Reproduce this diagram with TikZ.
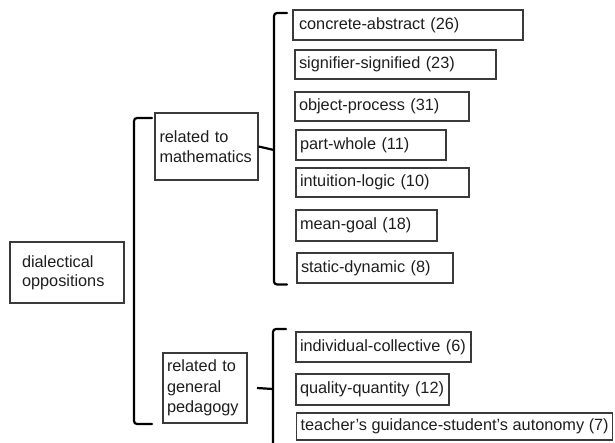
\documentclass[tikz,border=0pt]{standalone}
\usepackage{fontspec}
\setmainfont{Liberation Sans}
\definecolor{boxline}{HTML}{3A3A3A}
\definecolor{txt}{HTML}{1E1E1E}
\tikzset{
  bx/.style={draw=boxline, line width=1.3pt, inner xsep=4pt, inner ysep=0pt,
    align=left, text=txt, font=\fontsize{16.3}{20.3}\selectfont},
  brace/.style={draw=black, line width=2.2pt, rounded corners=3pt, line cap=round}
}
\begin{document}
\begin{tikzpicture}[x=1pt,y=-1pt]
\useasboundingbox (0,0) rectangle (615,442);
% left column
\node[bx, inner xsep=12pt, text width=90pt, minimum height=61pt] (dial) at (67,272.5) {dialectical\\[-1pt]oppositions\\[4pt]};
\node[bx, inner xsep=4.5pt, text width=94pt, minimum height=67pt] (math) at (206.5,146.5) {related to\\mathematics};
\node[bx, text width=76pt, minimum height=70pt] (ped) at (205,388) {related to\\general\\pedagogy};
% math items
\node[bx, inner xsep=6pt, text width=218pt, minimum height=30pt] (ca) at (408,25) {concrete-abstract (26)};
\node[bx, text width=193pt, minimum height=29pt] (ss) at (395.5,64.5) {signifier-signified (23)};
\node[bx, text width=166pt, minimum height=29pt] (op) at (382,106.5) {object-process (31)};
\node[bx, text width=142pt, minimum height=30pt] (pw) at (371,145) {part-whole (11)};
\node[bx, text width=165pt, minimum height=29pt] (il) at (382.5,182.5) {intuition-logic (10)};
\node[bx, text width=133pt, minimum height=31pt] (mg) at (366.5,225.5) {mean-goal (18)};
\node[bx, text width=148pt, minimum height=30pt] (sd) at (375,268) {static-dynamic (8)};
% pedagogy items
\node[bx, text width=167pt, minimum height=30pt] (ic) at (383.5,347) {individual-collective (6)};
\node[bx, text width=145pt, minimum height=31pt] (qq) at (372.5,389.5) {quality-quantity (12)};
\node[bx, anchor=west, minimum height=27pt] (tg) at (296,426.5) {teacher's guidance-student's autonomy (7)};
% brace coordinates
\coordinate (bigT) at (152,118);
\coordinate (bigB) at (152,424);
\coordinate (mT) at (287,13);
\coordinate (mB) at (287,284.5);
\coordinate (mM) at (274,150);
\coordinate (pT) at (286,329);
\coordinate (pB) at (286,470);
\coordinate (pM) at (273,389);
% big bracket
\draw[brace] (bigT) -- (134,118) -- (134,424) -- (bigB);
% math brace
\draw[brace] (mT) -- (274,13) -- (274,284.5) -- (mB);
\draw[black, line width=2.2pt] (math.east) -- (mM);
% pedagogy brace
\draw[brace] (pT) -- (273,329) -- (273,470) -- (pB);
\draw[black, line width=2.2pt] (ped.east -| 257,0) -- (pM);
\end{tikzpicture}
\end{document}
